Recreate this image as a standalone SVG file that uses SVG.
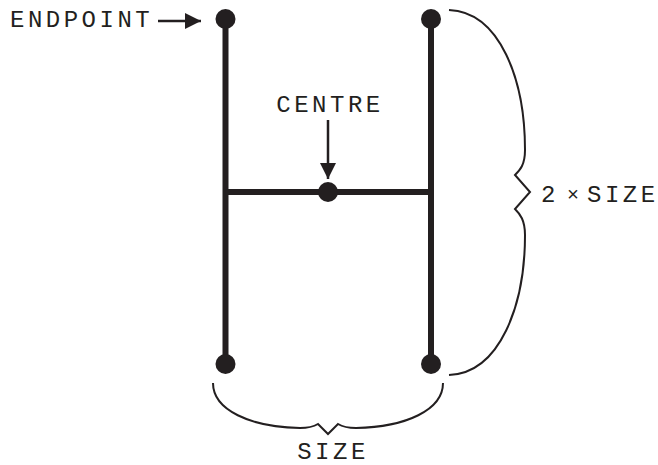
<svg xmlns="http://www.w3.org/2000/svg" width="658" height="465" viewBox="0 0 658 465">
  <style>
    .bar { stroke: #231f20; stroke-width: 6; stroke-linecap: butt; fill: none; }
    .dot { fill: #231f20; }
    .brace { stroke: #231f20; stroke-width: 2; fill: none; stroke-linejoin: miter; }
    .ptr { stroke: #231f20; stroke-width: 2.5; fill: none; }
    .lbl { font-family: "Liberation Mono", "Courier New", monospace; font-size: 24px; fill: #231f20; letter-spacing: 3.5px; }
    .times { font-size: 20px; letter-spacing: 0; }
  </style>
  <defs>
    <marker id="head" viewBox="0 0 10 10" refX="10" refY="5" markerWidth="6.5" markerHeight="7" markerUnits="strokeWidth" orient="auto">
      <path d="M0,0 L10,5 L0,10 Z" fill="#231f20"/>
    </marker>
  </defs>

  <!-- the H shape -->
  <g id="h-shape">
    <line class="bar" x1="225.5" y1="19" x2="225.5" y2="364"/>
    <line class="bar" x1="431" y1="19" x2="431" y2="364"/>
    <line class="bar" x1="225.5" y1="192" x2="431" y2="192"/>
  </g>

  <g id="endpoint-top-left"><circle class="dot" cx="225.5" cy="19" r="10"/></g>
  <g id="endpoint-top-right"><circle class="dot" cx="431" cy="19" r="10"/></g>
  <g id="endpoint-bottom-left"><circle class="dot" cx="225.5" cy="364" r="10"/></g>
  <g id="endpoint-bottom-right"><circle class="dot" cx="431" cy="364" r="10"/></g>
  <g id="centre"><circle class="dot" cx="328" cy="192" r="10"/></g>

  <g id="label-endpoint"><text class="lbl" x="10" y="27">ENDPOINT</text></g>
  <g id="label-centre"><text class="lbl" x="330" y="112" text-anchor="middle">CENTRE</text></g>

  <!-- pointers and braces -->
  <g id="connectors">
    <line class="ptr" x1="158" y1="21" x2="201" y2="21" marker-end="url(#head)"/>
    <line class="ptr" x1="328" y1="120" x2="328" y2="179" marker-end="url(#head)"/>
    <path class="brace" d="M449,10 C500,12 525,80 525,150 C525,165 520,170 515,175 L530,192 L515,209 C520,214 525,220 525,235 C525,305 500,373 449,375"/>
    <path class="brace" d="M213,383 C213,410 250,427 300,428 C308,428 313,427 318,424 L328,434 L338,424 C343,427 348,428 356,428 C406,427 443,410 443,383"/>
  </g>

  <g id="label-height">
    <text class="lbl" x="541" y="202">2</text>
    <text class="lbl times" x="567" y="201">×</text>
    <text class="lbl" x="587" y="202">SIZE</text>
  </g>
  <g id="label-width"><text class="lbl" x="333" y="459" text-anchor="middle">SIZE</text></g>
</svg>
